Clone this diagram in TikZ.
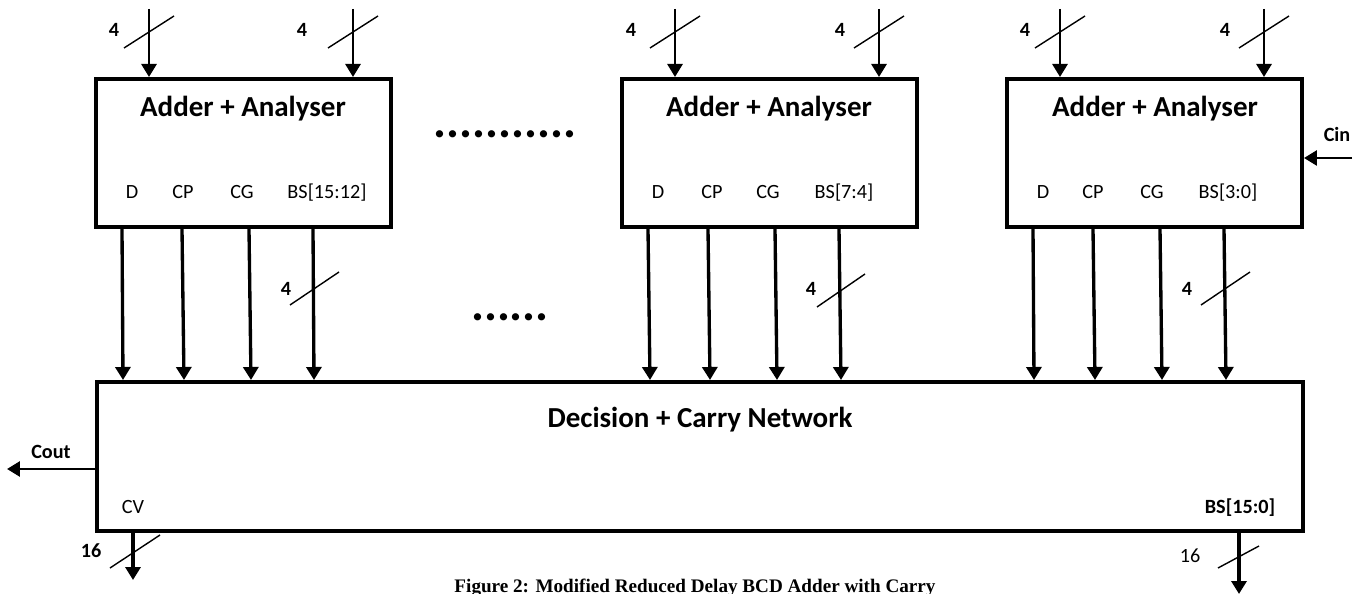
\documentclass[tikz,border=0pt]{standalone}
\usepackage{fontspec}
\setmainfont{Carlito}
\newfontfamily\capfont{Liberation Serif}
\usetikzlibrary{arrows.meta,calc}

\tikzset{
  blocco/.style={draw, line width=2.3pt, minimum width=5.9cm, minimum height=2.96cm, inner sep=0pt, anchor=north west},
  rete/.style={draw, line width=2.3pt, minimum width=24.12cm, minimum height=2.98cm, inner sep=0pt, anchor=north west},
  freccia/.style={line width=1.6pt, -{Triangle[length=0.26cm, width=0.3cm]}},
  uscita/.style={line width=1.9pt, -{Triangle[length=0.26cm, width=0.3cm]}},
  bus/.style={line width=0.8pt},
  titolo/.style={font=\fontsize{16.5}{18}\selectfont\bfseries, inner sep=0pt, anchor=base},
  porta/.style={font=\fontsize{11.5}{13}\selectfont, inner sep=0pt, anchor=base},
  num/.style={font=\fontsize{11.5}{13}\selectfont\bfseries, inner sep=0pt, anchor=base},
  puntini/.style={font=\fontsize{27.6}{28}\selectfont\bfseries, inner sep=0pt, anchor=base},
}

\begin{document}
\begin{tikzpicture}[x=0.02cm, y=-0.02cm]
\useasboundingbox (0,0) rectangle (1355,594);

% blocchi
\node[blocco] (add1) at (94,77) {};
\node[blocco] (add2) at (620,77) {};
\node[blocco] (add3) at (1005,77) {};
\node[rete] (dcn) at (95,380) {};

\node[titolo] (t1) at (243,117) {Adder + Analyser};
\node[titolo] (t2) at (769,117) {Adder + Analyser};
\node[titolo] (t3) at (1155,117) {Adder + Analyser};
\node[titolo] (t4) at (700,427) {Decision + Carry Network};

% porte
\node[porta] (d1) at (132,199) {D};
\node[porta] (cp1) at (183,199) {CP};
\node[porta] (cg1) at (242,199) {CG};
\node[porta] (bs1) at (327,199) {BS[15:12]};
\node[porta] (d2) at (658,199) {D};
\node[porta] (cp2) at (712,199) {CP};
\node[porta] (cg2) at (768,199) {CG};
\node[porta] (bs2) at (844,199) {BS[7:4]};
\node[porta] (d3) at (1043,199) {D};
\node[porta] (cp3) at (1093,199) {CP};
\node[porta] (cg3) at (1152,199) {CG};
\node[porta] (bs3) at (1228,199) {BS[3:0]};

% ingressi
\coordinate (a1) at (149,9);
\coordinate (b1) at (353,9);
\coordinate (a2) at (675,9);
\coordinate (b2) at (879,9);
\coordinate (a3) at (1060,9);
\coordinate (b3) at (1264,9);
\draw[freccia] (a1) -- (a1 |- add1.north);
\draw[freccia] (b1) -- (b1 |- add1.north);
\draw[freccia] (a2) -- (a2 |- add2.north);
\draw[freccia] (b2) -- (b2 |- add2.north);
\draw[freccia] (a3) -- (a3 |- add3.north);
\draw[freccia] (b3) -- (b3 |- add3.north);
\draw[bus] (124,48) -- (174,16);
\draw[bus] (328,48) -- (378,16);
\draw[bus] (650,48) -- (700,16);
\draw[bus] (854,48) -- (904,16);
\draw[bus] (1035,48) -- (1085,16);
\draw[bus] (1239,48) -- (1289,16);
\node[num] (na1) at (114,37) {4};
\node[num] (nb1) at (302,37) {4};
\node[num] (na2) at (631,37) {4};
\node[num] (nb2) at (840,37) {4};
\node[num] (na3) at (1025,37) {4};
\node[num] (nb3) at (1225,37) {4};

% uscite verso la rete
\draw[uscita] ($(add1.south west)+(28,0)$) -- ($(add1.south west |- dcn.north)+(29,0)$);
\draw[uscita] ($(add1.south west)+(88,0)$) -- ($(add1.south west |- dcn.north)+(90,0)$);
\draw[uscita] ($(add1.south west)+(155,0)$) -- ($(add1.south west |- dcn.north)+(157,0)$);
\draw[uscita] ($(add1.south west)+(219,0)$) -- ($(add1.south west |- dcn.north)+(220,0)$);
\draw[uscita] ($(add2.south west)+(28,0)$) -- ($(add2.south west |- dcn.north)+(30,0)$);
\draw[uscita] ($(add2.south west)+(88,0)$) -- ($(add2.south west |- dcn.north)+(90,0)$);
\draw[uscita] ($(add2.south west)+(155,0)$) -- ($(add2.south west |- dcn.north)+(157,0)$);
\draw[uscita] ($(add2.south west)+(219,0)$) -- ($(add2.south west |- dcn.north)+(221,0)$);
\draw[uscita] ($(add3.south west)+(28,0)$) -- ($(add3.south west |- dcn.north)+(29,0)$);
\draw[uscita] ($(add3.south west)+(88,0)$) -- ($(add3.south west |- dcn.north)+(90,0)$);
\draw[uscita] ($(add3.south west)+(155,0)$) -- ($(add3.south west |- dcn.north)+(157,0)$);
\draw[uscita] ($(add3.south west)+(219,0)$) -- ($(add3.south west |- dcn.north)+(221,0)$);
\draw[bus] (290,305) -- (339,272);
\draw[bus] (817,307) -- (865,274);
\draw[bus] (1201,305) -- (1250,272);
\node[num] (nc1) at (286,296) {4};
\node[num] (nc2) at (811,296) {4};
\node[num] (nc3) at (1187,296) {4};

% puntini
\node[puntini] (p1) at (505,138) {...........};
\node[puntini] (p2) at (510,320) {......};

% riporti
\coordinate (cin) at (1352,158);
\draw[freccia] (cin) -- (cin -| add3.east);
\node[num] (lcin) at (1337,142) {Cin};
\coordinate (cout) at (7,469);
\draw[freccia] (dcn.west |- cout) -- (cout);
\node[num] (lcout) at (51,458) {Cout};

% uscite finali
\node[porta] (cv) at (133,513) {CV};
\node[num] (bsf) at (1240,513) {BS[15:0]};
\coordinate (ocv) at (133,580);
\draw[uscita] (ocv |- dcn.south) -- (ocv);
\draw[bus] (110,568) -- (160,535);
\node[num] (n16a) at (91,557) {16};
\coordinate (obs) at (1239,594);
\draw[uscita] (obs |- dcn.south) -- (obs);
\draw[bus] (1218,568) -- (1259,546);
\node[porta] (n16b) at (1190,562) {16};

% didascalia
\node[font=\capfont\bfseries\fontsize{10.9}{12}\selectfont, inner sep=0pt, anchor=base] (cap) at (695,592) {Figure 2: Modified Reduced Delay BCD Adder with Carry};

\end{tikzpicture}
\end{document}
